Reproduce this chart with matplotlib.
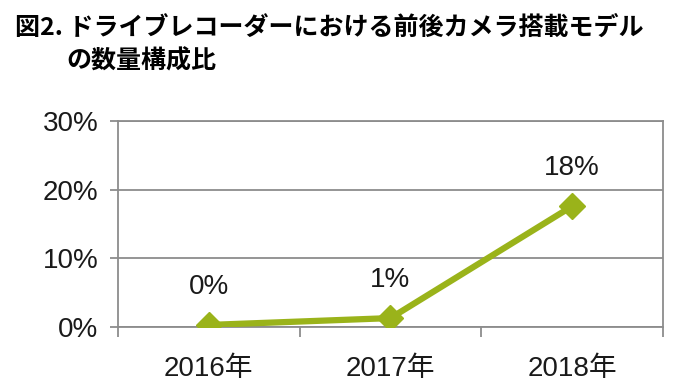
import matplotlib
matplotlib.use('Agg')
import matplotlib.pyplot as plt
import numpy as np

plt.rcParams['font.family'] = ['Liberation Sans', 'Noto Sans CJK JP']

#data
years = ['2016年', '2017年', '2018年']
share = [0.3, 1.3, 17.6]   # %
labels = ['0%', '1%', '18%']

green = '#9AB31A'
grey = '#8c8c8c'

fig = plt.figure(figsize=(6.8, 3.9), dpi=100)
ax = fig.add_axes([0.1735, 0.1615, 0.8015, 0.528])

x = np.arange(len(years))
ax.plot(x, share, color=green, lw=4.5, marker='D', ms=13, solid_capstyle='round', zorder=3)
for xi, yi, lab in zip(x, share, labels):
    ax.annotate(lab, (xi, yi), xytext=(0, 18), textcoords='offset points',
                ha='center', va='bottom', fontsize=20, color='#1a1a1a')

ax.set_xlim(-0.5, 2.5)
ax.set_ylim(0, 30)
ax.set_yticks([0, 10, 20, 30])
ax.set_yticklabels(['0%', '10%', '20%', '30%'], fontsize=20, color='#1a1a1a')
ax.set_xticks(x)
ax.set_xticklabels(years, fontsize=20, color='#1a1a1a')
ax.set_xticks([-0.5, 0.5, 1.5, 2.5], minor=True)
ax.tick_params(axis='x', which='major', length=0, pad=21)
ax.tick_params(axis='x', which='minor', length=7, color=grey, width=1.3, direction='out')
ax.tick_params(axis='y', length=6, color=grey, width=1.3, pad=8)
ax.yaxis.grid(True, color=grey, lw=1.3)
ax.set_axisbelow(True)
for s in ['left', 'bottom', 'right', 'top']:
    ax.spines[s].set_color(grey)
    ax.spines[s].set_linewidth(1.3)

fig.text(0.022, 0.96, '図2. ドライブレコーダーにおける前後カメラ搭載モデル', fontsize=18,
         fontweight='bold', va='top', ha='left', family=['Noto Sans CJK JP'])
fig.text(0.098, 0.875, 'の数量構成比', fontsize=18,
         fontweight='bold', va='top', ha='left', family=['Noto Sans CJK JP'])

fig.savefig('out.png', dpi=100)
